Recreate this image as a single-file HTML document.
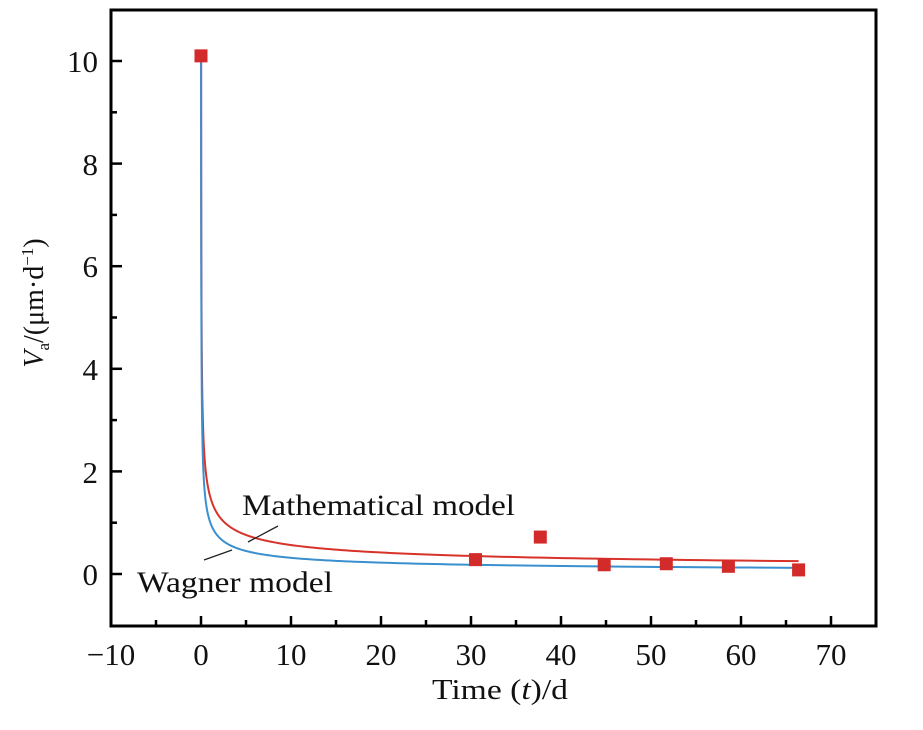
<!DOCTYPE html>
<html><head><meta charset="utf-8"><style>body{margin:0;background:#fff}svg{display:block}text{font-family:"Liberation Serif",serif;fill:#111}</style></head>
<body>
<svg id="s" width="923" height="730" xmlns="http://www.w3.org/2000/svg">
<rect x="111" y="10" width="765" height="616" fill="none" stroke="#000" stroke-width="3"/>
<g id="ticks" stroke="#000" stroke-width="2.5"></g>
<g font-size="31" text-anchor="middle">
<text x="111" y="665">−10</text><text x="201" y="665">0</text><text x="291" y="665">10</text><text x="381" y="665">20</text><text x="471" y="665">30</text><text x="561" y="665">40</text><text x="651" y="665">50</text><text x="741" y="665">60</text><text x="831" y="665">70</text>
</g>
<g font-size="31" text-anchor="end">
<text x="98" y="585">0</text><text x="98" y="483">2</text><text x="98" y="380">4</text><text x="98" y="277">6</text><text x="98" y="175">8</text><text x="98" y="72">10</text>
</g>
<text x="432" y="699" font-size="28" textLength="136" lengthAdjust="spacingAndGlyphs">Time (<tspan font-style="italic">t</tspan>)/d</text>
<text transform="translate(43,303) rotate(-90)" font-size="28" text-anchor="middle"><tspan font-style="italic">V</tspan><tspan font-size="17" dy="6">a</tspan><tspan dy="-6">/(μm·d</tspan><tspan font-size="17" dy="-10">−1</tspan><tspan dy="10">)</tspan></text>
<path id="red" fill="none" stroke="#d8332a" stroke-width="2"/>
<path id="blue" fill="none" stroke="#3a8fcf" stroke-width="2"/>
<g id="pts" fill="#d32a2a"></g>
<line x1="248" y1="542" x2="278" y2="526" stroke="#222" stroke-width="1.3"/>
<line x1="204" y1="560" x2="232" y2="550" stroke="#222" stroke-width="1.3"/>
<text x="242" y="515" font-size="30" textLength="273" lengthAdjust="spacingAndGlyphs">Mathematical model</text>
<text x="137" y="592" font-size="30" textLength="196" lengthAdjust="spacingAndGlyphs">Wagner model</text>
</svg>
<script>
const X=t=>201+9*t, Y=v=>574-51.3*v;
let tk='';
for(let t=-10;t<=75;t+=5){const x=X(t);if(x<=112||x>=875)continue;tk+=`<line x1="${x}" y1="626" x2="${x}" y2="${t%10==0?616:620}"/>`;}
for(let v=-1;v<=11;v++){const y=Y(v);if(y<=11||y>=625)continue;tk+=`<line x1="111" y1="${y}" x2="${v%2==0?122:117}" y2="${y}"/>`;}
document.getElementById('ticks').innerHTML=tk;
function curve(a,b){let d='';for(let i=0;i<=400;i++){const t=0.0005*Math.pow(66.4/0.0005,i/400);let v=Math.min(10.1,a*Math.pow(t,-b));d+=(i?'L':'M')+X(t).toFixed(2)+','+Y(v).toFixed(2);}return d;}
document.getElementById('red').setAttribute('d',curve(1.52,0.43));
document.getElementById('blue').setAttribute('d',curve(1.02,0.51));
let p='';[[0,10.1],[30.5,0.28],[37.7,0.72],[44.8,0.18],[51.7,0.2],[58.6,0.15],[66.4,0.08]].forEach(([t,v])=>{p+=`<rect x="${X(t)-6.5}" y="${Y(v)-6.5}" width="13" height="13"/>`;});
document.getElementById('pts').innerHTML=p;
</script>
</body></html>
